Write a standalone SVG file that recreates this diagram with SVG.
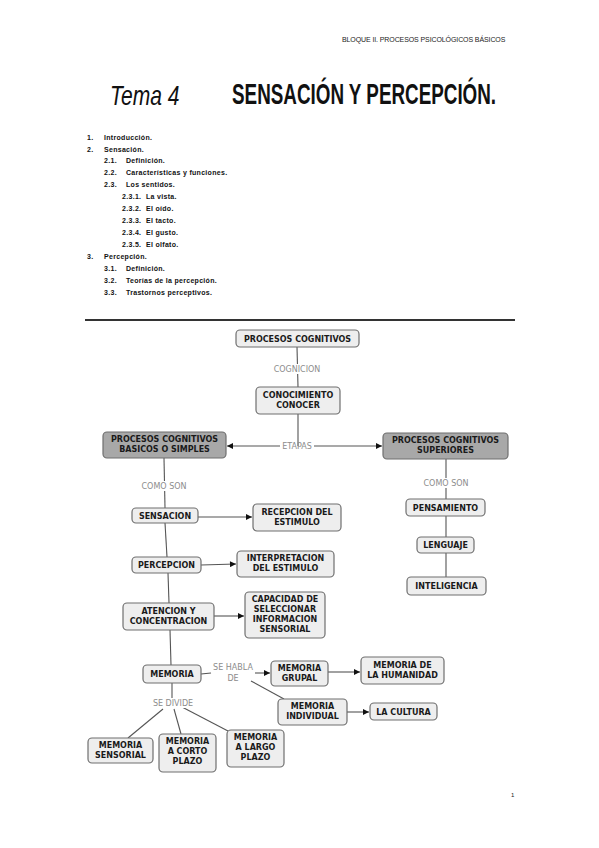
<svg xmlns="http://www.w3.org/2000/svg" width="599" height="848" viewBox="0 0 599 848">
<style>
.n rect{fill:#eeeeee;stroke:#6f6f6f;stroke-width:1.2}
.n.d rect{fill:#a8a8a8}
.n text{font-family:"DejaVu Sans",sans-serif;font-weight:bold;font-size:8px;fill:#1a1a1a;text-anchor:middle}
.c{stroke:#555;stroke-width:1.1;fill:none}
.lb{font-family:"DejaVu Sans",sans-serif;font-size:8px;fill:#8c8c8c;text-anchor:middle}
.li{font-family:"Liberation Sans",Arial,sans-serif;font-size:7px;font-weight:bold;fill:#111;letter-spacing:0.3px}
</style>
<defs>
<marker id="a" viewBox="0 0 10 10" refX="10" refY="5" markerWidth="7" markerHeight="6" markerUnits="userSpaceOnUse" orient="auto">
<path d="M0,0 L10,5 L0,10 z" fill="#111"/>
</marker>
</defs>
<rect width="599" height="848" fill="#fff"/>
<text x="342" y="42" font-family="Liberation Sans,Arial,sans-serif" font-size="7" fill="#222" letter-spacing="-0.1">BLOQUE II. PROCESOS PSICOLÓGICOS BÁSICOS</text>
<text transform="translate(110 105) scale(0.78 1)" x="0" y="0" font-family="Liberation Sans,Arial,sans-serif" font-style="italic" font-size="27" fill="#111">Tema 4</text>
<text transform="translate(232 104) scale(0.65 1)" x="0" y="0" font-family="Liberation Sans,Arial,sans-serif" font-weight="bold" font-size="29" fill="#111">SENSACIÓN Y PERCEPCIÓN.</text>

<g id="indice" class="li">
<text x="87" y="140">1.</text><text x="104" y="140">Introducción.</text>
<text x="87" y="152">2.</text><text x="104" y="152">Sensación.</text>
<text x="104" y="163">2.1.</text><text x="126" y="163">Definición.</text>
<text x="104" y="175">2.2.</text><text x="126" y="175">Características y funciones.</text>
<text x="104" y="187">2.3.</text><text x="126" y="187">Los sentidos.</text>
<text x="122" y="199">2.3.1.</text><text x="146" y="199">La vista.</text>
<text x="122" y="211">2.3.2.</text><text x="146" y="211">El oído.</text>
<text x="122" y="223">2.3.3.</text><text x="146" y="223">El tacto.</text>
<text x="122" y="235">2.3.4.</text><text x="146" y="235">El gusto.</text>
<text x="122" y="247">2.3.5.</text><text x="146" y="247">El olfato.</text>
<text x="87" y="259">3.</text><text x="104" y="259">Percepción.</text>
<text x="104" y="271">3.1.</text><text x="126" y="271">Definición.</text>
<text x="104" y="283">3.2.</text><text x="126" y="283">Teorías de la percepción.</text>
<text x="104" y="295">3.3.</text><text x="126" y="295">Trastornos perceptivos.</text>
</g>
<line x1="85" y1="320" x2="515" y2="320" stroke="#333" stroke-width="1.8"/>

<g id="connectors">
<line class="c" x1="297" y1="347" x2="298" y2="387"/>
<line class="c" x1="298" y1="414" x2="298" y2="446"/>
<line class="c" x1="280" y1="446" x2="227" y2="446" marker-end="url(#a)"/>
<line class="c" x1="314" y1="446" x2="382" y2="446" marker-end="url(#a)"/>
<line class="c" x1="164" y1="458" x2="165" y2="508"/>
<line class="c" x1="198" y1="517" x2="252" y2="517" marker-end="url(#a)"/>
<line class="c" x1="165" y1="523" x2="167" y2="557"/>
<line class="c" x1="201" y1="565" x2="236" y2="564" marker-end="url(#a)"/>
<line class="c" x1="168" y1="573" x2="169" y2="603"/>
<line class="c" x1="214" y1="616" x2="244" y2="616" marker-end="url(#a)"/>
<line class="c" x1="170" y1="630" x2="171" y2="665"/>
<line class="c" x1="201" y1="674" x2="211" y2="673"/>
<line class="c" x1="255" y1="673" x2="270" y2="673" marker-end="url(#a)"/>
<line class="c" x1="251" y1="681" x2="284" y2="699"/>
<line class="c" x1="328" y1="672" x2="360" y2="672" marker-end="url(#a)"/>
<line class="c" x1="347" y1="712" x2="369" y2="712" marker-end="url(#a)"/>
<line class="c" x1="172" y1="683" x2="172" y2="698"/>
<line class="c" x1="163" y1="709" x2="128" y2="738"/>
<line class="c" x1="174" y1="709" x2="181" y2="734"/>
<line class="c" x1="182" y1="707" x2="228" y2="731"/>
<line class="c" x1="446" y1="459" x2="446" y2="499"/>
<line class="c" x1="446" y1="516" x2="446" y2="537"/>
<line class="c" x1="446" y1="553" x2="446" y2="577"/>
<rect x="269" y="364" width="56" height="10" fill="#fff"/>
<text class="lb" x="297" y="372">COGNICION</text>
<text class="lb" x="297" y="449">ETAPAS</text>
<rect x="138" y="481" width="52" height="10" fill="#fff"/>
<text class="lb" x="164" y="489">COMO SON</text>
<rect x="420" y="478" width="52" height="10" fill="#fff"/>
<text class="lb" x="446" y="486">COMO SON</text>
<text class="lb" x="233" y="670">SE HABLA</text>
<text class="lb" x="233" y="681">DE</text>
<rect x="150" y="698" width="46" height="10" fill="#fff"/>
<text class="lb" x="173" y="706">SE DIVIDE</text>
</g>

<g id="procesos-cognitivos" class="n"><rect x="236" y="330" width="123" height="17" rx="4"/><text x="297.5" y="341.5">PROCESOS COGNITIVOS</text></g>
<g id="conocimiento" class="n"><rect x="256" y="387" width="84" height="27" rx="4"/><text x="298" y="398">CONOCIMIENTO</text><text x="298" y="408">CONOCER</text></g>
<g id="basicos" class="n d"><rect x="103" y="432" width="123" height="26" rx="4"/><text x="164.5" y="442">PROCESOS COGNITIVOS</text><text x="164.5" y="452">BASICOS O SIMPLES</text></g>
<g id="superiores" class="n d"><rect x="383" y="433" width="125" height="26" rx="4"/><text x="445.5" y="443">PROCESOS COGNITIVOS</text><text x="445.5" y="453">SUPERIORES</text></g>
<g id="sensacion" class="n"><rect x="132" y="508" width="66" height="15" rx="4"/><text x="165" y="518.5">SENSACION</text></g>
<g id="recepcion" class="n"><rect x="253" y="504" width="88" height="27" rx="4"/><text x="297" y="515">RECEPCION DEL</text><text x="297" y="525">ESTIMULO</text></g>
<g id="percepcion" class="n"><rect x="132" y="557" width="69" height="16" rx="4"/><text x="166.5" y="568">PERCEPCION</text></g>
<g id="interpretacion" class="n"><rect x="237" y="551" width="97" height="26" rx="4"/><text x="285.5" y="561">INTERPRETACION</text><text x="285.5" y="571">DEL ESTIMULO</text></g>
<g id="atencion" class="n"><rect x="123" y="603" width="91" height="27" rx="4"/><text x="168.5" y="614">ATENCION Y</text><text x="168.5" y="624">CONCENTRACION</text></g>
<g id="capacidad" class="n"><rect x="245" y="592" width="80" height="46" rx="4"/><text x="285" y="602">CAPACIDAD DE</text><text x="285" y="612">SELECCIONAR</text><text x="285" y="622">INFORMACION</text><text x="285" y="632">SENSORIAL</text></g>
<g id="memoria" class="n"><rect x="143" y="665" width="58" height="18" rx="4"/><text x="172" y="677">MEMORIA</text></g>
<g id="grupal" class="n"><rect x="271" y="661" width="57" height="25" rx="4"/><text x="299.5" y="671">MEMORIA</text><text x="299.5" y="681">GRUPAL</text></g>
<g id="humanidad" class="n"><rect x="361" y="657" width="83" height="27" rx="4"/><text x="402.5" y="668">MEMORIA DE</text><text x="402.5" y="678">LA HUMANIDAD</text></g>
<g id="individual" class="n"><rect x="278" y="699" width="69" height="26" rx="4"/><text x="312.5" y="709">MEMORIA</text><text x="312.5" y="719">INDIVIDUAL</text></g>
<g id="cultura" class="n"><rect x="370" y="703" width="67" height="17" rx="4"/><text x="403.5" y="714.5">LA CULTURA</text></g>
<g id="sensorial" class="n"><rect x="88" y="738" width="65" height="25" rx="4"/><text x="120.5" y="748">MEMORIA</text><text x="120.5" y="758">SENSORIAL</text></g>
<g id="corto" class="n"><rect x="159" y="734" width="57" height="38" rx="4"/><text x="187.5" y="744">MEMORIA</text><text x="187.5" y="754">A CORTO</text><text x="187.5" y="764">PLAZO</text></g>
<g id="largo" class="n"><rect x="227" y="730" width="57" height="37" rx="4"/><text x="255.5" y="740">MEMORIA</text><text x="255.5" y="750">A LARGO</text><text x="255.5" y="760">PLAZO</text></g>
<g id="pensamiento" class="n"><rect x="406" y="499" width="79" height="17" rx="4"/><text x="445.5" y="510.5">PENSAMIENTO</text></g>
<g id="lenguaje" class="n"><rect x="417" y="537" width="57" height="16" rx="4"/><text x="445.5" y="548">LENGUAJE</text></g>
<g id="inteligencia" class="n"><rect x="407" y="577" width="79" height="18" rx="4"/><text x="446.5" y="589">INTELIGENCIA</text></g>

<text x="511" y="797" font-family="Liberation Sans,Arial,sans-serif" font-size="6" fill="#222">1</text>
</svg>
